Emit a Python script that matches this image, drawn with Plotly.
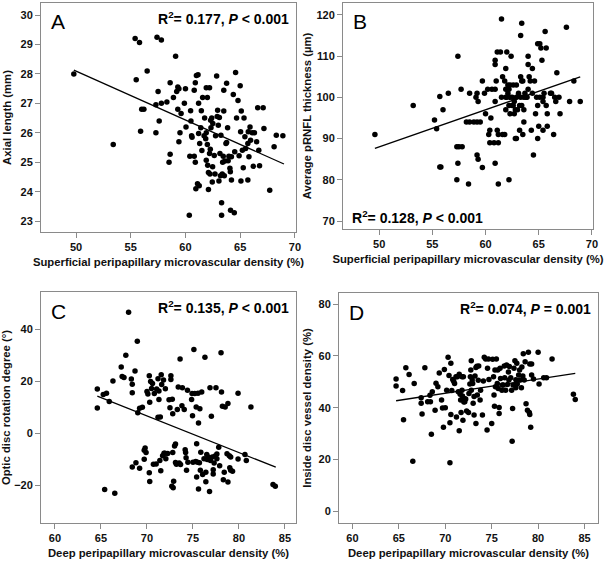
import plotly.graph_objects as go

# ---------------- Panel A ----------------
a_x = [49.8, 53.4, 55.4, 55.8, 55.5, 55.9, 56.0, 56.2, 56.5, 57.3, 57.3, 57.4, 57.5, 57.6, 57.8, 57.8,
       58.3, 58.5, 58.6, 58.6, 58.9, 59.1, 59.2, 59.3, 59.3, 59.4, 59.4, 59.5, 59.6, 59.9, 60.0, 60.05,
       60.35, 60.4, 60.47, 60.5, 60.56, 60.6, 60.8, 60.8, 60.9, 60.9, 60.95, 61.0, 61.1, 61.15, 61.2,
       61.2, 61.26, 61.3, 61.4, 61.45, 61.5, 61.57, 61.7, 61.75, 61.85, 61.9, 61.9, 61.9, 62.0, 62.0,
       62.03, 62.1, 62.1, 62.2, 62.2, 62.24, 62.27, 62.3, 62.33, 62.4, 62.45, 62.48, 62.5, 62.63, 62.7,
       62.75, 62.85, 62.9, 62.94, 63.0, 63.06, 63.1, 63.15, 63.2, 63.24, 63.3, 63.3, 63.36, 63.4, 63.45,
       63.5, 63.5, 63.55, 63.6, 63.7, 63.76, 63.76, 63.85, 63.9, 63.97, 64.06, 64.1, 64.12, 64.2, 64.2,
       64.37, 64.46, 64.5, 64.58, 64.67, 64.8, 64.9, 65.0, 65.04, 65.07, 65.1, 65.2, 65.28, 65.35, 65.43,
       65.5, 65.7, 65.7, 65.74, 65.8, 65.9, 65.95, 66.1, 66.2, 66.3, 66.5, 66.6, 66.7, 66.77, 67.1,
       67.17, 67.7, 68.1, 68.3, 68.9]
a_y = [28.0, 25.6, 29.2, 29.07, 27.8, 26.05, 26.8, 26.8, 28.1, 26.95, 26.0, 29.25, 27.4, 26.4, 27.0, 29.15,
       27.05, 25.0, 27.7, 25.27, 27.2, 28.6, 27.4, 27.56, 26.8, 27.5, 25.7, 26.0, 26.66, 27.0, 27.5, 26.2,
       23.2, 25.2, 26.75, 26.4, 25.9, 25.85, 25.2, 27.45, 27.7, 25.0, 24.1, 27.95, 24.27, 27.97, 25.98,
       27.0, 24.2, 25.64, 26.17, 26.75, 25.4, 27.2, 25.9, 26.5, 25.8, 25.07, 26.0, 27.53, 27.2, 25.6,
       24.9, 24.07, 24.65, 27.53, 25.3, 24.6, 25.44, 26.43, 26.17, 26.5, 24.33, 24.85, 26.32, 25.23, 24.6,
       25.9, 27.93, 26.55, 26.77, 26.26, 24.36, 26.52, 25.3, 24.54, 25.92, 23.62, 23.2, 24.6, 25.0, 25.2,
       27.45, 26.74, 24.54, 25.04, 25.64, 27.68, 25.67, 26.17, 25.05, 25.2, 24.8, 24.68, 23.37, 25.19, 24.4,
       27.3, 23.28, 25.36, 28.05, 26.5, 27.1, 25.22, 27.6, 26.04, 24.36, 26.74, 25.41, 24.81, 26.5, 25.87,
       25.47, 25.64, 24.4, 26.04, 25.19, 26.2, 25.75, 26.0, 24.86, 26.0, 25.7, 26.85, 25.41, 24.88, 26.85,
       26.15, 24.05, 25.53, 25.92, 25.9]
a_fit_x = [49.8, 69.0]
a_fit_y = [28.13, 24.94]

# ---------------- Panel B ----------------
b_x = [49.6, 53.2, 55.2, 55.4, 55.7, 55.7, 55.8, 56.0, 56.5, 57.3, 57.3, 57.4, 57.4, 57.5, 57.8, 57.7,
       58.4, 58.2, 58.5, 58.5, 58.9, 59.1, 59.2, 59.2, 59.3, 59.3, 59.2, 59.5, 59.7, 59.7, 59.9, 60.0,
       60.3, 60.2, 60.4, 60.4, 60.5, 60.6, 60.8, 60.9, 60.9, 60.9, 60.9, 60.9, 61.0, 61.1, 61.1, 61.2,
       61.2, 61.2, 61.4, 61.5, 61.5, 61.6, 61.6, 61.8, 61.8, 61.9, 61.9, 61.9, 62.0, 61.9, 62.0, 62.1,
       62.1, 62.2, 62.2, 62.2, 62.3, 62.3, 62.3, 62.4, 62.5, 62.5, 62.6, 62.6, 62.7, 62.7, 62.8, 62.8,
       62.9, 62.9, 62.9, 63.0, 63.1, 63.2, 63.2, 63.3, 63.3, 63.3, 63.4, 63.4, 63.4, 63.5, 63.5, 63.6,
       63.6, 63.6, 63.7, 63.8, 63.9, 64.0, 64.0, 64.0, 64.1, 64.2, 64.3, 64.4, 64.4, 64.5, 64.6, 64.7,
       64.8, 64.9, 64.9, 64.9, 65.0, 65.1, 65.1, 65.2, 65.3, 65.4, 65.4, 65.4, 65.5, 65.6, 65.7, 65.7,
       65.8, 65.8, 66.1, 66.2, 66.4, 66.5, 66.6, 66.7, 66.9, 67.0, 67.6, 67.9, 68.3, 68.9]
b_y = [91, 98, 94.5, 92.4, 100.2, 83.1, 83.1, 97, 101, 80, 88, 84, 110, 88, 88, 102,
       79, 94, 94, 101, 94, 100, 101, 86, 99, 85, 94, 94, 104, 83, 101, 96,
       91, 102, 92, 89, 95, 102, 89, 109, 102, 84, 108, 99, 104, 111, 92, 89,
       79, 91, 111, 119, 100, 105, 91, 91, 104, 100, 102, 107, 111, 97, 100, 101,
       103, 102, 80, 98, 100, 103, 96, 110, 98, 100, 103, 98, 99, 96, 97, 90,
       100, 103, 90, 97, 101, 98, 92, 105, 115, 100, 98, 118, 104, 91, 104, 100,
       97, 94, 101, 100, 100, 110, 102, 108, 105, 104, 92, 107, 101, 86, 104, 96,
       100, 98, 113, 90, 93, 113, 100, 112, 109, 100, 92, 99, 101, 116, 112, 98,
       93, 96, 101, 101, 91, 100, 99, 106, 100, 96, 117, 99, 104, 99]
b_fit_x = [49.6, 68.9]
b_fit_y = [87.6, 105.0]

# ---------------- Panel C ----------------
c_x = [64.6, 64.6, 65.25, 65.6, 65.4, 65.9, 66.3, 66.5, 67.2, 67.3, 67.5, 67.7, 68.0, 68.3, 68.4, 68.4,
       68.4, 68.7, 68.8, 68.95, 69.0, 69.2, 69.2, 69.5, 69.7, 69.7, 69.8, 69.9, 70.0, 70.1, 70.25, 70.25,
       70.3, 70.3, 70.4, 70.5, 70.6, 70.7, 70.8, 71.0, 71.05, 71.2, 71.3, 71.2, 71.3, 71.4, 71.45, 71.5,
       71.55, 71.6, 71.7, 71.8, 71.85, 71.95, 72.0, 72.05, 72.25, 72.4, 72.5, 72.6, 72.6, 72.7, 72.75,
       72.8, 72.8, 72.85, 72.9, 73.0, 73.1, 73.1, 73.2, 73.3, 73.4, 73.5, 73.6, 73.65, 73.8, 73.85, 74.05,
       74.15, 74.2, 74.25, 74.3, 74.4, 74.45, 74.85, 74.9, 74.95, 75.0, 75.1, 75.2, 75.3, 75.35, 75.4,
       75.4, 75.5, 75.55, 75.6, 75.6, 75.7, 75.75, 75.8, 75.85, 75.95, 76.05, 76.2, 76.3, 76.4, 76.4,
       76.5, 76.55, 76.65, 76.8, 76.85, 76.9, 77.0, 77.1, 77.2, 77.2, 77.3, 77.4, 77.5, 77.6, 77.6, 77.8,
       77.9, 78.05, 78.1, 78.2, 78.3, 78.4, 78.5, 78.7, 78.8, 78.8, 78.95, 79.0, 79.1, 79.1, 79.3, 79.9,
       79.9, 80.65, 80.8, 81.3, 83.7, 83.95]
c_y = [17.1, 9.8, 15.0, 15.5, -21.6, 12.3, 20.2, -23.0, 25.6, 21.9, 21.6, 30.1, 46.7, 21.0, 15.7, 19.0,
       -12.9, 24.1, -11.3, 35.5, 8.0, -13.4, 9.7, 10.1, -9.9, -6.5, -5.6, -7.3, 16.2, 15.2, -15.1, 22.2,
       12.0, -18.5, 20.0, 17.3, 19.2, -11.9, 15.4, -11.8, 17.1, 21.1, 16.4, 6.2, 13.1, -10.4, 6.3, -14.4,
       22.6, 18.9, -8.6, 20.6, -7.6, -7.6, 17.2, -9.7, -7.7, 13.0, 9.9, 20.8, 22.2, -20.3, 13.2,
       7.6, -7.3, -20.9, -18.4, -4.8, -4.1, -11.2, -11.9, 9.2, 17.9, -11.4, 28.7, -12.0, 10.7, 17.6, 9.2,
       -6.3, -7.3, -9.4, -14.2, 16.6, -11.1, 13.1, 15.4, 6.8, -11.1, 32.3, 15.4, -10.8, 10.2, -4.0,
       -16.8, -11.1, 15.5, 4.0, -21.4, -11.3, 9.5, -14.2, -7.2, 16.0, -15.8, -9.7, 29.4, -14.9, -18.6,
       -8.1, -10.0, -9.1, -22.4, 17.6, -10.4, 6.6, -9.1, -14.0, -15.6, -11.4, -8.7, 17.6, -9.7, -7.9, -5.3,
       -12.4, 31.1, 16.0, 10.5, -17.8, -14.9, 10.2, -7.8, 11.5, -18.7, -8.6, -13.2, -9.1, -14.2, -14.6, 15.5,
       -9.8, -8.1, -10.4, 10.2, -19.7, -20.3]
c_fit_x = [64.6, 84.0]
c_fit_y = [14.4, -13.0]

# ---------------- Panel D ----------------
d_x = [64.7, 64.7, 65.4, 65.5, 65.75, 66.1, 66.5, 66.65, 67.4, 67.4, 67.5, 67.8, 68.1, 68.35, 68.4, 68.5,
       68.6, 68.9, 69.0, 69.2, 69.35, 69.6, 69.7, 69.8, 69.9, 70.0, 70.15, 70.3, 70.4, 70.5, 70.5, 70.6,
       70.6, 70.7, 70.8, 70.9, 71.0, 71.15, 71.2, 71.3, 71.4, 71.5, 71.5, 71.6, 71.65, 71.7, 71.8, 71.8,
       71.85, 71.9, 71.95, 72.0, 72.05, 72.1, 72.2, 72.3, 72.5, 72.55, 72.65, 72.7, 72.75, 72.8, 72.8,
       72.9, 72.95, 73.0, 73.1, 73.1, 73.2, 73.3, 73.3, 73.4, 73.45, 73.55, 73.6, 73.75, 73.8, 74.0, 74.1,
       74.2, 74.35, 74.5, 74.55, 74.65, 74.7, 75.0, 75.1, 75.2, 75.25, 75.3, 75.35, 75.4, 75.5, 75.6,
       75.65, 75.7, 75.8, 75.8, 75.9, 75.95, 76.1, 76.15, 76.25, 76.35, 76.4, 76.5, 76.6, 76.7, 76.8,
       76.85, 76.9, 77.05, 77.15, 77.2, 77.25, 77.3, 77.4, 77.5, 77.6, 77.6, 77.7, 77.75, 77.9, 78.0,
       78.05, 78.2, 78.25, 78.35, 78.4, 78.5, 78.6, 78.7, 78.85, 78.95, 79.05, 79.1, 79.1, 79.2, 79.3,
       79.3, 79.5, 80.0, 80.1, 80.6, 80.9, 81.5, 83.8, 84.0]
d_y = [51.1, 48.4, 46.7, 35.4, 55.4, 52.8, 19.3, 49.4, 43.9, 41.7, 37.6, 55.4, 42.3, 44.8, 42.3, 29.8,
       46.2, 39.0, 49.5, 48.1, 53.4, 43.0, 39.9, 32.5, 54.8, 40.0, 46.8, 59.5, 52.4, 34.2, 18.8, 37.4,
       57.2, 46.7, 50.9, 50.2, 49.4, 52.0, 36.4, 52.0, 46.2, 31.1, 52.9, 45.2, 43.0, 38.2, 52.0, 46.8,
       44.5, 35.2, 52.0, 42.2, 43.6, 42.3, 43.4, 38.7, 38.2, 45.5, 49.2, 52.0, 54.6, 58.1, 46.8,
       50.7, 49.4, 41.7, 37.2, 44.3, 52.3, 55.5, 33.9, 56.0, 44.9, 50.6, 56.1, 43.0, 46.8, 37.2, 50.3,
       59.5, 58.8, 31.4, 55.2, 58.8, 50.9, 33.9, 58.7, 52.0, 44.9, 40.6, 54.6, 48.1, 58.8, 49.4,
       54.6, 47.4, 40.1, 37.8, 55.2, 51.3, 46.8, 48.8, 48.8, 56.1, 51.6, 46.8, 56.5, 49.0, 53.8,
       50.7, 55.9, 51.6, 46.8, 27.1, 39.7, 48.8, 55.2, 58.1, 50.8, 47.7, 57.2, 49.2, 52.6, 54.6,
       50.7, 47.7, 55.7, 52.3, 60.8, 50.7, 57.8, 41.5, 39.0, 61.4, 38.2, 56.9, 37.4, 32.5, 56.9,
       52.6, 51.1, 61.4, 49.2, 51.6, 51.6, 58.8, 45.2, 43.2]
d_fit_x = [64.7, 84.0]
d_fit_y = [42.7, 53.3]

panel_letters = ["A", "B", "C", "D"]
stats_text = ["R<sup>2</sup>= 0.177, <i>P</i> < 0.001",
              "R<sup>2</sup>= 0.128, <i>P</i> < 0.001",
              "R<sup>2</sup>= 0.135, <i>P</i> < 0.001",
              "R<sup>2</sup>= 0.074, <i>P</i> = 0.001"]
x_titles = ["Superficial peripapillary microvascular density (%)",
            "Superficial peripapillary microvascular density (%)",
            "Deep peripapillary microvascular density (%)",
            "Deep peripapillary microvascular density (%)"]
y_titles = ["Axial length (mm)", "Average pRNFL thickness (µm)",
            "Optic disc rotation degree (°)", "Inside disc vessel density (%)"]
x_ticks_AB = [50, 55, 60, 65, 70]
x_ticks_CD = [60, 65, 70, 75, 80, 85]
y_ticks = [[23, 24, 25, 26, 27, 28, 29, 30], [70, 80, 90, 100, 110, 120],
           [-20, 0, 20, 40], [0, 20, 40, 60, 80]]

W, H = 615, 563
FONT = "Liberation Sans, Arial, sans-serif"
TITLE_SIZE = 11.3

# layout geometry in pixels (left, right, top, bottom)
boxes = [(41, 296, 3, 232), (343, 593, 3, 229), (41, 296, 292, 523), (339, 598, 293, 523)]
x_ranges = [[46.8, 70.1], [46.6, 70.1], [58.48, 86.2], [58.55, 86.45]]
y_ranges = [[22.63, 30.41], [68.06, 122.9], [-34.5, 54.5], [-4.5, 84.3]]
y_standoffs = [6, 2, 2, 4]

fig = go.Figure()
data = [(a_x, a_y, a_fit_x, a_fit_y), (b_x, b_y, b_fit_x, b_fit_y),
        (c_x, c_y, c_fit_x, c_fit_y), (d_x, d_y, d_fit_x, d_fit_y)]

for i, (px, py, fx, fy) in enumerate(data):
    xa = "x" if i == 0 else f"x{i+1}"
    ya = "y" if i == 0 else f"y{i+1}"
    fig.add_trace(go.Scatter(x=px, y=py, mode="markers", xaxis=xa, yaxis=ya,
                             marker=dict(color="black", size=5.5), showlegend=False,
                             hoverinfo="x+y"))
    fig.add_trace(go.Scatter(x=fx, y=fy, mode="lines", xaxis=xa, yaxis=ya,
                             line=dict(color="black", width=1.3), showlegend=False))

layout = dict(width=W, height=H, margin=dict(l=0, r=0, t=0, b=0),
              paper_bgcolor="white", plot_bgcolor="white", template="none",
              font=dict(family=FONT, color="#111111"))

annotations = []
for i in range(4):
    l, r, t, b = boxes[i]
    sfx = "" if i == 0 else str(i + 1)
    xdom = [l / W, r / W]
    ydom = [1 - b / H, 1 - t / H]
    xt = x_ticks_AB if i < 2 else x_ticks_CD
    layout["xaxis" + sfx] = dict(
        domain=xdom, range=x_ranges[i], anchor="y" + sfx, tickvals=xt,
        showline=True, linecolor="#8a8a8a", linewidth=1, mirror=True,
        ticks="outside", ticklen=5, tickcolor="#8a8a8a", showgrid=False, zeroline=False,
        tickfont=dict(size=11, family=FONT, color="#111111", weight="bold"),
        title=dict(text=x_titles[i], standoff=5,
                   font=dict(size=TITLE_SIZE, family=FONT, color="#111111", weight="bold")),
        automargin=False)
    layout["yaxis" + sfx] = dict(
        domain=ydom, range=y_ranges[i], anchor="x" + sfx, tickvals=y_ticks[i],
        showline=True, linecolor="#8a8a8a", linewidth=1, mirror=True,
        ticks="outside", ticklen=5, tickcolor="#8a8a8a", showgrid=False, zeroline=False,
        tickfont=dict(size=11, family=FONT, color="#111111", weight="bold"),
        title=dict(text=y_titles[i], standoff=y_standoffs[i],
                   font=dict(size=TITLE_SIZE, family=FONT, color="#111111", weight="bold")),
        automargin=False)
    # panel letter
    annotations.append(dict(text=panel_letters[i], xref="paper", yref="paper",
                            x=(l + 8) / W, y=1 - (t + 19) / H, xanchor="left", yanchor="middle",
                            showarrow=False, font=dict(size=21, family=FONT, color="black")))
    # stats text
    if i == 1:
        annotations.append(dict(text=stats_text[i], xref="paper", yref="paper",
                                x=(l + 7) / W, y=1 - (b - 12) / H, xanchor="left", yanchor="middle",
                                showarrow=False,
                                font=dict(size=14, family=FONT, color="black", weight="bold")))
    else:
        annotations.append(dict(text=stats_text[i], xref="paper", yref="paper",
                                x=(r - 5) / W, y=1 - (t + 15) / H, xanchor="right", yanchor="middle",
                                showarrow=False,
                                font=dict(size=14, family=FONT, color="black", weight="bold")))

layout["annotations"] = annotations
fig.update_layout(**layout)
fig.write_html("out.html", config={"displayModeBar": False},
               post_script="document.body.style.margin='0';document.body.style.padding='0';")
